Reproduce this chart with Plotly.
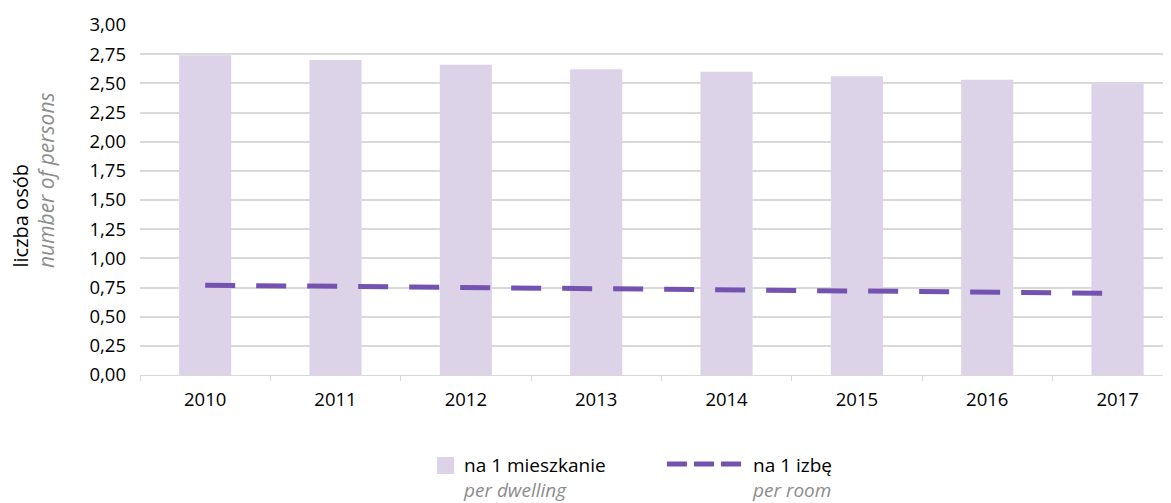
import plotly.graph_objects as go

years = ["2010", "2011", "2012", "2013", "2014", "2015", "2016", "2017"]
per_dwelling = [2.74, 2.70, 2.66, 2.62, 2.60, 2.56, 2.53, 2.51]
per_room = [0.77, 0.76, 0.74, 0.74, 0.72, 0.71, 0.71, 0.70]
y_ticks = [0, 0.25, 0.5, 0.75, 1.0, 1.25, 1.5, 1.75, 2.0, 2.25, 2.5, 2.75, 3.0]

BAR_C = "#DCD3E9"
LINE_C = "#7452B0"
GRID_C = "#D9D9D9"
GRAY = "#8C8C8C"
FONT = "Open Sans"

# page body has an 8px margin, so the figure is drawn 8px in from the top-left corner
OFF = 8
W, H = 1171 - OFF, 503 - OFF
# plot area in screen pixels
SX0, SX1, SY0, SY1 = 140, 1171, 25, 375
L, T = SX0 - OFF, SY0 - OFF
R = (W + OFF) - SX1
B = (H + OFF) - SY1
PW, PH = SX1 - SX0, SY1 - SY0


def px(x):
    return (x - SX0) / PW


def py(y):
    return (SY1 - y) / PH


def two_line(pl, en):
    return f"{pl}<br><span style='color:{GRAY}'><i>{en}</i></span>"


fig = go.Figure()
fig.add_trace(go.Bar(x=years, y=per_dwelling, width=0.4, marker=dict(color=BAR_C, line=dict(width=0)),
                     name="na 1 mieszkanie", showlegend=False))
fig.add_trace(go.Scatter(x=years, y=per_room, mode="lines",
                         line=dict(color=LINE_C, width=5, dash="30px,21px"),
                         name="na 1 izbę", showlegend=False))

shapes = [
    dict(type="rect", xref="paper", yref="paper", x0=px(437), x1=px(454), y0=py(474), y1=py(457),
         fillcolor=BAR_C, line=dict(width=0)),
    dict(type="line", xref="paper", yref="paper", x0=px(667), x1=px(741), y0=py(464), y1=py(464),
         line=dict(color=LINE_C, width=5, dash="20px,7px")),
]

annotations = [
    dict(text="liczba osób", xref="paper", yref="paper", x=px(20), y=py(270), textangle=-90,
         xanchor="center", yanchor="bottom", showarrow=False, font=dict(family=FONT, size=20, color="#000")),
    dict(text="<i>number of persons</i>", xref="paper", yref="paper", x=px(46), y=py(270), textangle=-90,
         xanchor="center", yanchor="bottom", showarrow=False, font=dict(family=FONT, size=21, color=GRAY)),
    dict(text=two_line("na 1 mieszkanie", "per dwelling"), xref="paper", yref="paper", x=px(462),
         y=py(477), xanchor="left", yanchor="middle", align="left", showarrow=False, borderpad=0,
         font=dict(family=FONT, size=19, color="#000")),
    dict(text=two_line("na 1 izbę", "per room"), xref="paper", yref="paper", x=px(751),
         y=py(477), xanchor="left", yanchor="middle", align="left", showarrow=False, borderpad=0,
         font=dict(family=FONT, size=19, color="#000")),
]

fig.update_layout(
    width=W, height=H,
    margin=dict(l=L, r=R, t=T, b=B, pad=0),
    plot_bgcolor="white", paper_bgcolor="white",
    separators=", ",
    font=dict(family=FONT, size=19, color="#000"),
    showlegend=False,
    shapes=shapes,
    annotations=annotations,
)
fig.update_xaxes(type="category", range=[-0.5, 7.41], tickson="boundaries", ticks="outside",
                 ticklen=5, tickcolor=GRID_C, showline=True, linecolor=GRID_C, linewidth=1,
                 showgrid=False, tickfont=dict(size=18.5), ticklabelstandoff=8, fixedrange=True)
fig.update_yaxes(range=[0, 3.0], tickvals=y_ticks, tickformat=".2f", showgrid=True, gridcolor=GRID_C,
                 gridwidth=1.5, zeroline=False, ticks="", ticklabelstandoff=13, tickfont=dict(size=18.5),
                 fixedrange=True)

fig.write_html("out.html")
